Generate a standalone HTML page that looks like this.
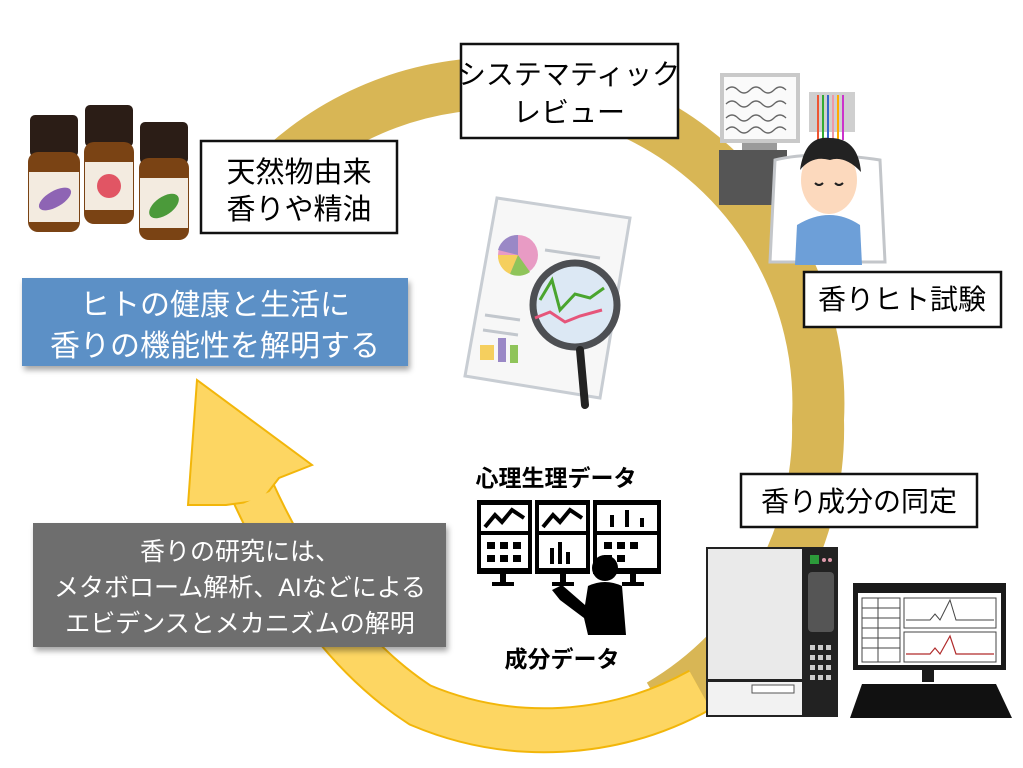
<!DOCTYPE html>
<html><head><meta charset="utf-8"><style>
body{margin:0;background:#fff;width:1023px;height:768px;overflow:hidden;font-family:"Liberation Sans","Noto Sans CJK JP",sans-serif}
svg{position:absolute;left:0;top:0}
.t{font-family:"Liberation Sans","Noto Sans CJK JP",sans-serif}
</style></head><body>
<svg width="1023" height="768" viewBox="0 0 1023 768">
<defs>
<filter id="sh" x="-10%" y="-10%" width="120%" height="130%"><feDropShadow dx="2" dy="4" stdDeviation="3" flood-color="#000" flood-opacity="0.35"/></filter>
</defs>
<!-- ring gold -->
<path d="M285 165 A320 320 0 0 1 818 420 A320 320 0 0 1 660 705" fill="none" stroke="#d8b655" stroke-width="52"/>
<!-- yellow part -->
<path d="M700 690 A320 320 0 0 1 420 705 Q320 640 252 490" fill="none" stroke="#f2b60a" stroke-width="46"/>
<path d="M700 690 A320 320 0 0 1 420 705 Q320 640 252 490" fill="none" stroke="#fdd662" stroke-width="42"/>
<polygon points="197,380 312,465 279,478 262,500 226,505 188,505" fill="#fdd662" stroke="#f2b60a" stroke-width="2"/>
<path d="M420 705 Q320 640 256 498" fill="none" stroke="#fdd662" stroke-width="40"/>

<!-- boxes -->
<rect x="201" y="141" width="196" height="92" fill="#fff" stroke="#111" stroke-width="2.5"/>
<text class="t" x="299" y="182" font-size="29" text-anchor="middle">天然物由来</text>
<text class="t" x="299" y="219" font-size="29" text-anchor="middle">香りや精油</text>

<rect x="461" y="44" width="217" height="94" fill="#fff" stroke="#111" stroke-width="2.5"/>
<text class="t" x="569" y="84" font-size="28" text-anchor="middle">システマティック</text>
<text class="t" x="569" y="122" font-size="28" text-anchor="middle">レビュー</text>

<rect x="804" y="272" width="197" height="55" fill="#fff" stroke="#111" stroke-width="2.5"/>
<text class="t" x="902" y="309" font-size="28" text-anchor="middle">香りヒト試験</text>

<rect x="741" y="474" width="236" height="53" fill="#fff" stroke="#111" stroke-width="2.5"/>
<text class="t" x="859" y="511" font-size="28" text-anchor="middle">香り成分の同定</text>

<rect x="22" y="278" width="386" height="88" fill="#5b90c6" filter="url(#sh)"/>
<text class="t" x="215" y="315" font-size="30" fill="#fff" text-anchor="middle">ヒトの健康と生活に</text>
<text class="t" x="215" y="356" font-size="30" fill="#fff" text-anchor="middle">香りの機能性を解明する</text>

<rect x="33" y="523" width="413" height="124" fill="#6e6e6e" filter="url(#sh)"/>
<text class="t" x="240" y="560" font-size="25" fill="#fff" text-anchor="middle">香りの研究には、</text>
<text class="t" x="240" y="596" font-size="25" fill="#fff" text-anchor="middle">メタボローム解析、AIなどによる</text>
<text class="t" x="240" y="632" font-size="25" fill="#fff" text-anchor="middle">エビデンスとメカニズムの解明</text>

<text class="t" x="556" y="486" font-size="23" font-weight="bold" text-anchor="middle">心理生理データ</text>
<text class="t" x="562" y="667" font-size="23" font-weight="bold" text-anchor="middle">成分データ</text>

<!-- bottles -->
<g>
 <rect x="30" y="115" width="48" height="42" rx="5" fill="#2b1d16"/>
 <rect x="28" y="152" width="52" height="80" rx="10" fill="#7a4314"/>
 <rect x="29" y="172" width="50" height="50" fill="#f3ebe0"/>
 <ellipse cx="55" cy="199" rx="18" ry="8" fill="#8e64b4" transform="rotate(-30 55 199)"/>
 <rect x="85" y="105" width="48" height="42" rx="5" fill="#2b1d16"/>
 <rect x="84" y="142" width="50" height="82" rx="10" fill="#7a4314"/>
 <rect x="85" y="162" width="48" height="48" fill="#f3ebe0"/>
 <circle cx="109" cy="186" r="12" fill="#e15564"/>
 <rect x="140" y="122" width="48" height="42" rx="5" fill="#2b1d16"/>
 <rect x="139" y="158" width="50" height="82" rx="10" fill="#7a4314"/>
 <rect x="140" y="178" width="48" height="50" fill="#f3ebe0"/>
 <ellipse cx="164" cy="206" rx="17" ry="9" fill="#4b9a3a" transform="rotate(-35 164 206)"/>
</g>

<!-- report with magnifier -->
<g>
 <polygon points="497,198 630,218 600,398 465,376" fill="#f7f7f7" stroke="#c8cdd3" stroke-width="3"/>
 <circle cx="518" cy="255" r="20" fill="#e89bc4"/>
 <path d="M518 255 L518 235 A20 20 0 0 0 498 250 Z" fill="#9a88c6"/>
 <path d="M518 255 L498 255 A20 20 0 0 0 510 274 Z" fill="#f5cf5e"/>
 <path d="M518 255 L510 274 A20 20 0 0 0 530 272 Z" fill="#8fc45a"/>
 <g stroke="#c2c7cd" stroke-width="3"><line x1="545" y1="250" x2="600" y2="258"/><line x1="485" y1="315" x2="520" y2="320"/><line x1="483" y1="330" x2="518" y2="335"/></g>
 <rect x="480" y="345" width="14" height="15" fill="#f5cf5e"/><rect x="498" y="338" width="8" height="24" fill="#9a88c6"/><rect x="510" y="345" width="8" height="18" fill="#8fc45a"/>
 <circle cx="575" cy="305" r="42" fill="#dce8f4" stroke="#4d4f53" stroke-width="7"/>
 <polyline points="540,300 552,280 560,310 575,294 590,298 604,288" fill="none" stroke="#4aa52e" stroke-width="3"/>
 <polyline points="535,318 550,312 565,322 580,316 602,310" fill="none" stroke="#e6557a" stroke-width="3"/>
 <line x1="580" y1="350" x2="585" y2="405" stroke="#222" stroke-width="8" stroke-linecap="round"/>
</g>

<!-- EEG person -->
<g>
 <rect x="720" y="73" width="80" height="70" fill="#c9c9c9"/>
 <rect x="724" y="77" width="72" height="62" fill="#fafafa"/>
 <g stroke="#666" stroke-width="1.3" fill="none"><path d="M726 90 q6 -6 12 0 t12 0 t12 0 t12 0 t12 0"/><path d="M726 104 q6 -6 12 0 t12 0 t12 0 t12 0 t12 0"/><path d="M726 118 q6 -6 12 0 t12 0 t12 0 t12 0 t12 0"/><path d="M726 130 q6 -6 12 0 t12 0 t12 0 t12 0 t12 0"/></g>
 <rect x="742" y="143" width="35" height="10" fill="#9a9a9a"/>
 <rect x="719" y="150" width="68" height="55" fill="#555"/>
 <rect x="809" y="92" width="46" height="40" fill="#cfcfcf"/>
 <path d="M770 262 L775 160 Q815 150 880 160 L885 262 Z" fill="#fff" stroke="#c3c6ca" stroke-width="3"/>
 <g stroke-width="2"><line x1="818" y1="95" x2="818" y2="140" stroke="#e53"/><line x1="823" y1="95" x2="823" y2="140" stroke="#3a3"/><line x1="828" y1="95" x2="828" y2="140" stroke="#36c"/><line x1="833" y1="95" x2="833" y2="140" stroke="#e9a"/><line x1="838" y1="95" x2="838" y2="140" stroke="#fa0"/><line x1="843" y1="95" x2="843" y2="140" stroke="#c3c"/></g>
 <path d="M795 265 L797 225 Q830 205 860 225 L862 265 Z" fill="#6d9fd8"/>
 <ellipse cx="829" cy="180" rx="28" ry="34" fill="#fcd9bd"/>
 <path d="M800 170 Q805 135 830 138 Q858 138 861 172 Q845 155 830 160 Q812 155 800 170Z" fill="#222"/>
 <path d="M815 183 q4 4 8 0 M835 183 q4 4 8 0" stroke="#222" stroke-width="2" fill="none"/>
</g>

<!-- monitors icon -->
<g>
 <rect x="477" y="500" width="55" height="74" fill="#000"/><rect x="481" y="505" width="47" height="26" fill="#fff"/><rect x="481" y="535" width="47" height="33" fill="#fff"/>
 <rect x="535" y="500" width="55" height="74" fill="#000"/><rect x="539" y="505" width="47" height="26" fill="#fff"/><rect x="539" y="535" width="47" height="33" fill="#fff"/>
 <rect x="593" y="500" width="68" height="74" fill="#000"/><rect x="597" y="505" width="60" height="26" fill="#fff"/><rect x="597" y="535" width="60" height="33" fill="#fff"/>
 <g fill="none" stroke="#000" stroke-width="4"><polyline points="485,527 495,515 502,522 512,510 524,518"/><polyline points="543,527 553,515 560,522 570,510 582,518"/></g>
 <g fill="#000"><rect x="610" y="515" width="4" height="12"/><rect x="625" y="510" width="4" height="17"/><rect x="640" y="518" width="4" height="9"/>
 <rect x="487" y="542" width="8" height="7"/><rect x="500" y="542" width="8" height="7"/><rect x="513" y="542" width="8" height="7"/><rect x="487" y="555" width="8" height="7"/><rect x="500" y="555" width="8" height="7"/><rect x="513" y="555" width="8" height="7"/>
 <rect x="604" y="542" width="8" height="7"/><rect x="617" y="542" width="8" height="7"/><rect x="630" y="542" width="8" height="7"/><rect x="604" y="555" width="8" height="7"/><rect x="617" y="555" width="8" height="7"/>
 <rect x="550" y="548" width="4" height="16"/><rect x="558" y="542" width="4" height="22"/><rect x="566" y="552" width="4" height="12"/>
 <rect x="500" y="574" width="6" height="10"/><rect x="492" y="582" width="22" height="4"/><rect x="560" y="574" width="6" height="10"/><rect x="552" y="582" width="22" height="4"/><rect x="630" y="574" width="6" height="10"/><rect x="622" y="582" width="22" height="4"/>
 <circle cx="605" cy="568" r="13"/>
 <path d="M588 586 Q605 578 622 586 L626 635 L588 635 L584 618 L560 600 L552 590 L562 585 L585 605 Z"/>
 </g>
</g>

<!-- instrument -->
<g>
 <rect x="706" y="547" width="132" height="170" fill="#222"/>
 <rect x="708" y="549" width="94" height="130" fill="#eaeaea"/>
 <rect x="708" y="682" width="94" height="33" fill="#f2f2f2"/>
 <rect x="752" y="685" width="42" height="8" fill="#fff" stroke="#555"/>
 <rect x="810" y="555" width="9" height="9" fill="#2c9a3a"/>
 <circle cx="824" cy="560" r="2" fill="#d9a"/><circle cx="830" cy="560" r="2" fill="#d9a"/>
 <rect x="808" y="572" width="26" height="60" rx="4" fill="#555"/>
 <g fill="#ccc"><rect x="810" y="645" width="5" height="5"/><rect x="818" y="645" width="5" height="5"/><rect x="826" y="645" width="5" height="5"/><rect x="810" y="655" width="5" height="5"/><rect x="818" y="655" width="5" height="5"/><rect x="826" y="655" width="5" height="5"/><rect x="810" y="665" width="5" height="5"/><rect x="818" y="665" width="5" height="5"/><rect x="826" y="665" width="5" height="5"/><rect x="810" y="675" width="5" height="5"/><rect x="818" y="675" width="5" height="5"/><rect x="826" y="675" width="5" height="5"/></g>
 <rect x="853" y="583" width="153" height="87" fill="#1a1a1a"/>
 <rect x="858" y="593" width="143" height="72" fill="#fff"/>
 <g stroke="#444" stroke-width="1" fill="none"><rect x="862" y="598" width="38" height="64"/><line x1="862" y1="608" x2="900" y2="608"/><line x1="862" y1="618" x2="900" y2="618"/><line x1="862" y1="628" x2="900" y2="628"/><line x1="862" y1="638" x2="900" y2="638"/><line x1="862" y1="648" x2="900" y2="648"/><line x1="878" y1="598" x2="878" y2="662"/><rect x="904" y="598" width="92" height="30"/><rect x="904" y="632" width="92" height="30"/><polyline points="906,620 930,620 935,614 940,620 950,600 956,620 994,620"/></g>
 <polyline points="906,654 930,654 935,648 940,654 950,636 956,654 994,654" fill="none" stroke="#b02a2a" stroke-width="1.2"/>
 <rect x="922" y="670" width="12" height="12" fill="#1a1a1a"/>
 <polygon points="862,684 996,684 1012,718 850,718" fill="#111"/>
</g>
</svg>
</body></html>
